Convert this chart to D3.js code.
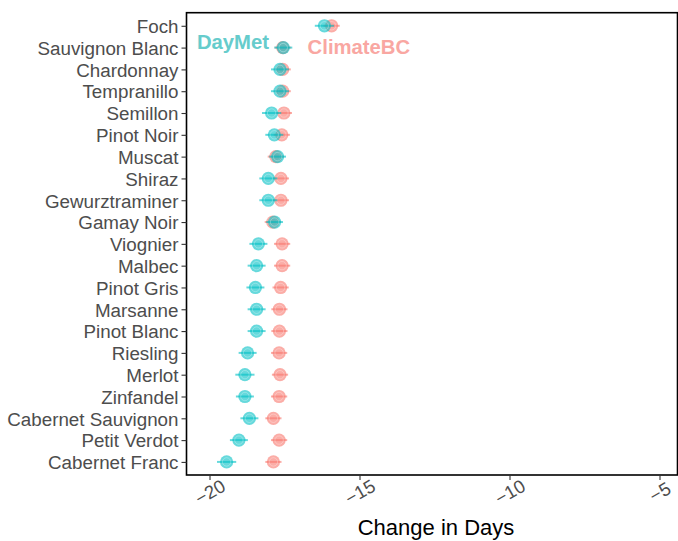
<!DOCTYPE html>
<html>
<head>
<meta charset="utf-8">
<script src="https://cdn.jsdelivr.net/npm/d3@7"></script>
<style>
  html, body { margin: 0; padding: 0; background: #fff; }
  svg { display: block; font-family: "Liberation Sans", Arial, Helvetica, sans-serif; }
</style>
</head>
<body>
<svg id="chart" width="678" height="541"></svg>
<script>
// ---- data ----
const varieties = ["Foch", "Sauvignon Blanc", "Chardonnay", "Tempranillo", "Semillon",
  "Pinot Noir", "Muscat", "Shiraz", "Gewurztraminer", "Gamay Noir", "Viognier", "Malbec",
  "Pinot Gris", "Marsanne", "Pinot Blanc", "Riesling", "Merlot", "Zinfandel",
  "Cabernet Sauvignon", "Petit Verdot", "Cabernet Franc"];
const daymet = [-16.17, -17.54, -17.65, -17.65, -17.93, -17.84, -17.73, -18.04, -18.04, -17.83,
  -18.37, -18.43, -18.47, -18.43, -18.43, -18.73, -18.82, -18.82, -18.67, -19.02, -19.43];
const daymetErr = [0.32, 0.3, 0.3, 0.3, 0.32, 0.3, 0.28, 0.3, 0.3, 0.28,
  0.3, 0.3, 0.3, 0.3, 0.3, 0.3, 0.32, 0.3, 0.3, 0.3, 0.32];
const climatebc = [-15.93, -17.56, -17.56, -17.56, -17.52, -17.59, -17.79, -17.62, -17.62, -17.89,
  -17.58, -17.58, -17.63, -17.67, -17.67, -17.68, -17.65, -17.68, -17.87, -17.68, -17.87];
const climatebcErr = [0.27, 0.27, 0.27, 0.27, 0.27, 0.27, 0.27, 0.27, 0.27, 0.27,
  0.27, 0.27, 0.27, 0.27, 0.27, 0.27, 0.27, 0.27, 0.27, 0.27, 0.27];
const xTicks = [-20, -15, -10, -5];
const seriesNames = ["DayMet", "ClimateBC"];
const xTitle = "Change in Days";

// ---- layout ----
const svg = d3.select("#chart");
const panel = { left: 186.5, right: 677.5, top: 12.7, bottom: 475 };
const x = d3.scaleLinear().domain([-20.767, -4.4]).range([panel.left, panel.right]);
const y = d3.scalePoint().domain(varieties).range([panel.top, panel.bottom]).padding(0.6);

const teal = "#00BFC4", pink = "#F8766D";
const r = 6.6;

// frame
svg.append("rect")
  .attr("x", panel.left).attr("y", panel.top)
  .attr("width", panel.right - panel.left).attr("height", panel.bottom - panel.top)
  .attr("fill", "none").attr("stroke", "#000").attr("stroke-width", 1.6);

// y axis
const yAxis = svg.append("g").attr("transform", `translate(${panel.left},0)`)
  .call(d3.axisLeft(y).tickSize(5).tickPadding(3));
yAxis.select(".domain").remove();
yAxis.selectAll(".tick line").attr("stroke", "#333").attr("stroke-width", 1.1);
yAxis.selectAll(".tick text").attr("fill", "#4d4d4d").style("font-size", "18.8px")
  .attr("dy", "0.36em");

// x axis
const xAxis = svg.append("g").attr("transform", `translate(0,${panel.bottom})`)
  .call(d3.axisBottom(x).tickValues(xTicks).tickSize(5).tickFormat(d3.format("")));
xAxis.select(".domain").remove();
xAxis.selectAll(".tick line").attr("stroke", "#333").attr("stroke-width", 1.1);
xAxis.selectAll(".tick text")
  .attr("fill", "#4d4d4d").style("font-size", "18.5px")
  .attr("y", 0).attr("dy", null)
  .attr("text-anchor", "middle")
  .attr("dominant-baseline", "central")
  .attr("transform", "translate(0,17) rotate(-30)");

// x title
svg.append("text")
  .attr("x", x(-12.45)).attr("y", 535)
  .attr("text-anchor", "middle")
  .style("font-size", "22px").attr("fill", "#000")
  .text(xTitle);

// series drawing
function drawSeries(vals, errs, color) {
  const g = svg.append("g");
  g.selectAll("line.err").data(varieties).enter().append("line")
    .attr("class", "err")
    .attr("x1", (d, i) => x(vals[i] - errs[i]))
    .attr("x2", (d, i) => x(vals[i] + errs[i]))
    .attr("y1", d => y(d)).attr("y2", d => y(d))
    .attr("stroke", color).attr("stroke-width", 2).attr("stroke-opacity", 0.6);
  g.selectAll("circle.pt").data(varieties).enter().append("circle")
    .attr("class", "pt")
    .attr("cx", (d, i) => x(vals[i])).attr("cy", d => y(d)).attr("r", r)
    .attr("fill", color).attr("fill-opacity", 0.6);
  g.selectAll("circle.ring").data(varieties).enter().append("circle")
    .attr("class", "ring")
    .attr("cx", (d, i) => x(vals[i])).attr("cy", d => y(d)).attr("r", 4.2)
    .attr("fill", "none").attr("stroke", "#fff").attr("stroke-opacity", 0.35)
    .attr("stroke-width", 0.8);
}
drawSeries(climatebc, climatebcErr, pink);
drawSeries(daymet, daymetErr, teal);

// series labels
svg.append("text")
  .attr("x", x(-20.42)).attr("y", y(varieties[1]) + 1.5)
  .style("font-size", "20.3px").style("font-weight", "bold")
  .attr("fill", "#66cccc").text(seriesNames[0]);
svg.append("text")
  .attr("x", x(-16.73)).attr("y", y(varieties[1]) + 6.5)
  .style("font-size", "20.3px").style("font-weight", "bold")
  .attr("fill", "#f9a7a2").text(seriesNames[1]);
</script>
</body>
</html>
